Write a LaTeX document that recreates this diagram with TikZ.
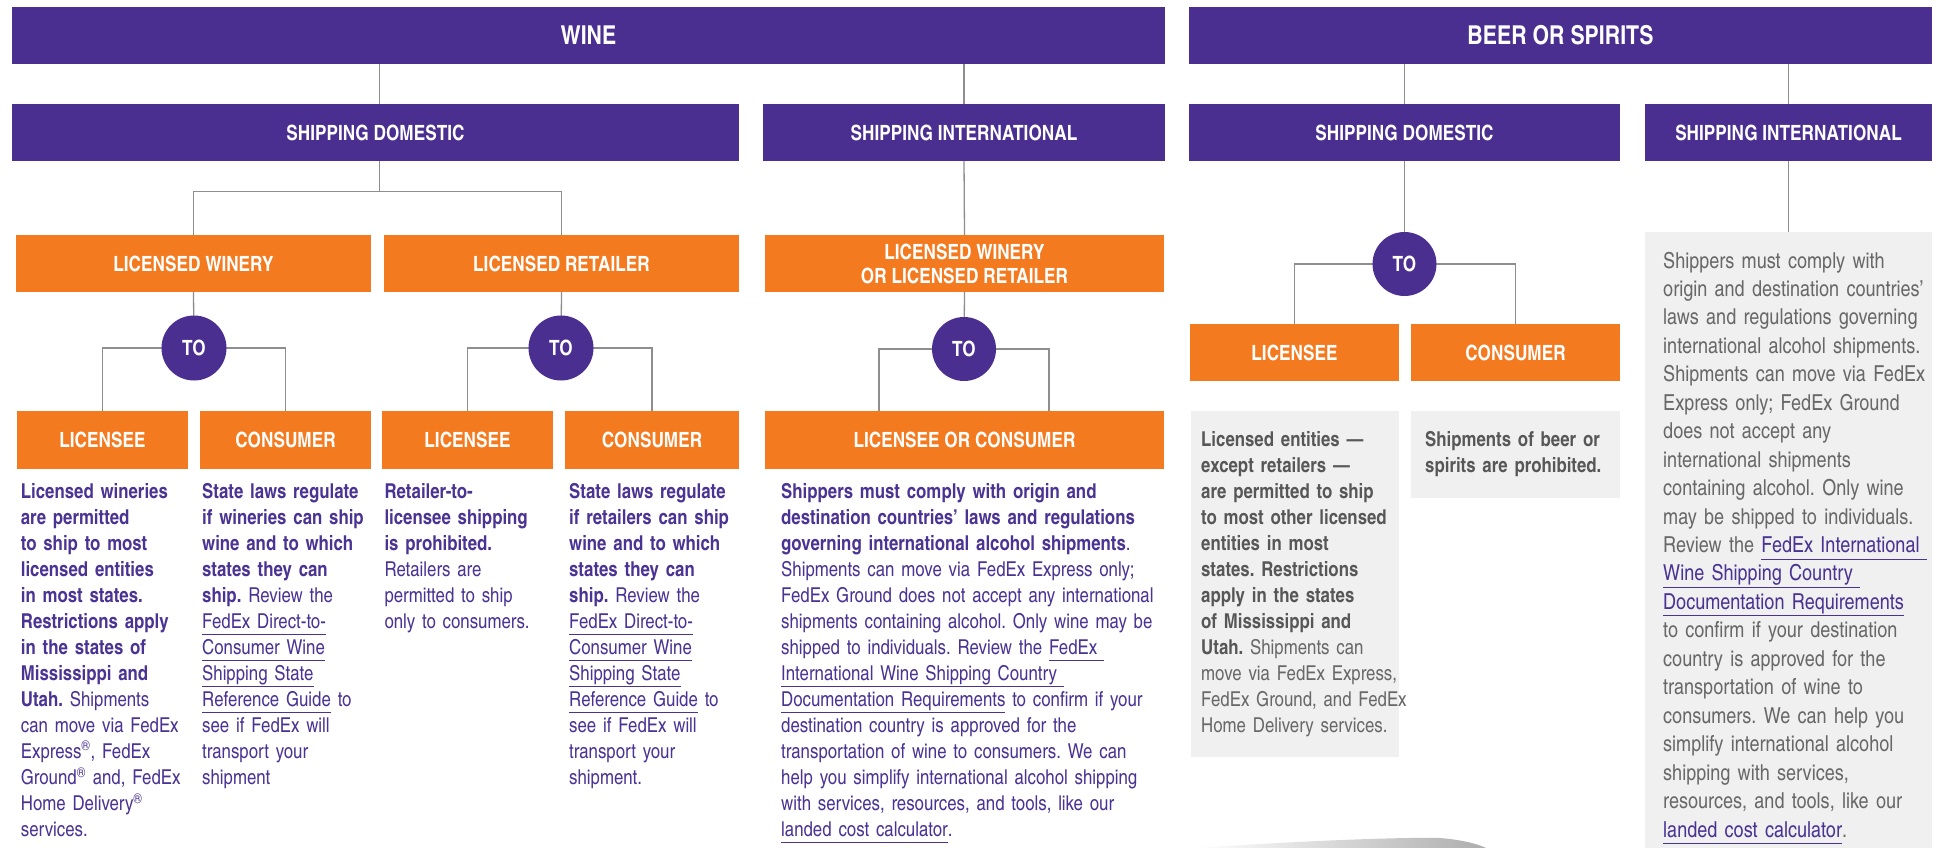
\documentclass[tikz,border=0pt]{standalone}
\usepackage{fontspec}
\setmainfont{texgyreheroscn}[Extension=.otf, UprightFont=*-regular, BoldFont=*-bold, ItalicFont=*-italic, BoldItalicFont=*-bolditalic]
\frenchspacing
\definecolor{fxpurple}{HTML}{4A2F91}
\definecolor{fxorange}{HTML}{F47A20}
\definecolor{txtpurple}{HTML}{4A3393}
\definecolor{boxgrey}{HTML}{F0F0F0}
\definecolor{txtgrey}{HTML}{575757}
\definecolor{txtgreyl}{HTML}{686868}
\definecolor{linegrey}{HTML}{8E8E8E}
\newcommand\fxhead{\bfseries\fontsize{21}{26}\selectfont}
\newcommand\fxtitle{\bfseries\fontsize{26}{30}\selectfont}
\newcommand\fxbody{\fontsize{20.5}{26.05}\selectfont}
\newcommand\fxbig{\fontsize{22}{28.45}\selectfont}
\newcommand\lnk[1]{\underline{#1\vphantom{g}}}
\newcommand\plnk[1]{{\color{txtpurple}\underline{#1\vphantom{g}}}}
\begin{document}
\begin{tikzpicture}[x=1pt,y=-1pt,
  pbar/.style={fill=fxpurple, text=white, font=\fxhead, inner sep=0, draw=none, align=center},
  obox/.style={fill=fxorange, text=white, font=\fxhead, inner sep=0, draw=none, align=center},
  tocirc/.style={circle, fill=fxpurple, text=white, font=\fxhead, inner sep=0, minimum size=65pt},
  gbox/.style={fill=boxgrey, inner sep=0, draw=none},
  conn/.style={draw=linegrey, line width=1.3pt},
  ptext/.style={anchor=base west, align=left, text width=420pt, inner sep=0, text=txtpurple, font=\fxbody},
  gtext/.style={anchor=base west, align=left, text width=420pt, inner sep=0, text=txtgreyl, font=\fxbody},
]
\useasboundingbox (0,0) rectangle (1937,848);
\fill[white] (0,0) rectangle (1937,848);

% bottom shadow
\shade[left color=white, right color=black!32] (1195,848) .. controls (1300,841) and (1400,837) .. (1440,838) .. controls (1465,840) and (1480,845) .. (1486,848) -- cycle;

% grey boxes
\node[gbox, minimum width=208pt, minimum height=346pt] (g1) at (1295,584) {};
\node[gbox, minimum width=209pt, minimum height=87pt] (g2) at (1515.5,454.5) {};
\node[gbox, minimum width=287pt, minimum height=616pt] (g3) at (1788.5,540) {};

% top bars
\node[pbar, font=\fxtitle, minimum width=1153pt, minimum height=57pt] (wine) at (588.5,35.5) {WINE};
\node[pbar, font=\fxtitle, minimum width=743pt, minimum height=57pt] (beer) at (1560.5,35.5) {BEER OR SPIRITS};

% shipping bars
\node[pbar, minimum width=727pt, minimum height=57pt] (wsd) at (375.5,132.5) {SHIPPING DOMESTIC};
\node[pbar, minimum width=402pt, minimum height=57pt] (wsi) at (964,132.5) {SHIPPING INTERNATIONAL};
\node[pbar, minimum width=431pt, minimum height=57pt] (bsd) at (1404.5,132.5) {SHIPPING DOMESTIC};
\node[pbar, minimum width=287pt, minimum height=57pt] (bsi) at (1788.5,132.5) {SHIPPING INTERNATIONAL};

% orange senders
\node[obox, minimum width=355pt, minimum height=57pt] (lw) at (193.5,263.5) {LICENSED WINERY};
\node[obox, minimum width=355pt, minimum height=57pt] (lr) at (561.5,263.5) {LICENSED RETAILER};
\node[obox, minimum width=399pt, minimum height=57pt] (lwlr) at (964.5,263.5) {LICENSED WINERY\\[-2pt]OR LICENSED RETAILER};

% connectors
\coordinate (jw) at (379.5,191.7);
\coordinate (i1) at (879,0);
\coordinate (i2) at (1049,0);
\coordinate (c1) at (194,348);
\coordinate (c2) at (561,348);
\coordinate (c3) at (964,349);
\coordinate (c4) at (1404.5,264);

% receivers
\node[obox, minimum width=171pt, minimum height=58pt] (wl) at (102.5,440) {LICENSEE};
\node[obox, minimum width=171pt, minimum height=58pt] (wc) at (285.5,440) {CONSUMER};
\node[obox, minimum width=171pt, minimum height=58pt] (rl) at (467.5,440) {LICENSEE};
\node[obox, minimum width=174pt, minimum height=58pt] (rc) at (652,440) {CONSUMER};
\node[obox, minimum width=399pt, minimum height=58pt] (ilc) at (964.5,440) {LICENSEE OR CONSUMER};
\node[obox, minimum width=209pt, minimum height=57pt] (bl) at (1294.5,352.5) {LICENSEE};
\node[obox, minimum width=209pt, minimum height=57pt] (bc) at (1515.5,352.5) {CONSUMER};

\draw[conn] (wine.south -| jw) -- (wsd.north -| jw);
\draw[conn] (wsd.south -| jw) -- (jw);
\draw[conn] (lw.north) |- (jw) -| (lr.north);
\draw[conn] (wine.south -| wsi) -- (wsi.north);
\draw[conn] (wsi.south) -- (lwlr.north);
\draw[conn] (lw.south) -- (c1);
\draw[conn] (lr.south) -- (c2);
\draw[conn] (lwlr.south) -- (c3);
\draw[conn] (c1) -| (wl.north);
\draw[conn] (c1) -| (wc.north);
\draw[conn] (c2) -| (rl.north);
\draw[conn] (c2) -| (rc.north);
\draw[conn] (c3) -| (ilc.north -| i1);
\draw[conn] (c3) -| (ilc.north -| i2);
\draw[conn] (beer.south -| bsd) -- (bsd.north);
\draw[conn] (beer.south -| bsi) -- (bsi.north);
\draw[conn] (bsd.south) -- (c4);
\draw[conn] (c4) -| (bl.north);
\draw[conn] (c4) -| (bc.north);
\draw[conn] (bsi.south) -- (g3.north);

% TO circles (drawn over the connector lines)
\node[tocirc] (to1) at (c1) {TO};
\node[tocirc] (to2) at (c2) {TO};
\node[tocirc, minimum size=64pt] (to3) at (c3) {TO};
\node[tocirc, minimum size=64pt] (to4) at (c4) {TO};

% texts
\node[ptext] (t1) at (20.7,498) {\textbf{Licensed wineries\\are permitted\\to ship to most\\licensed entities\\in most states.\\Restrictions apply\\in the states of\\Mississippi and\\Utah.} Shipments\\can move via FedEx\\Express\textsuperscript{®}, FedEx\\Ground\textsuperscript{®} and, FedEx\\Home Delivery\textsuperscript{®}\\services.};

\node[ptext] (t2) at (202,498) {\textbf{State laws regulate\\if wineries can ship\\wine and to which\\states they can\\ship.} Review the\\\lnk{FedEx Direct-to-}\\\lnk{Consumer Wine}\\\lnk{Shipping State}\\\lnk{Reference Guide} to\\see if FedEx will\\transport your\\shipment};

\node[ptext] (t3) at (384.3,498) {\textbf{Retailer-to-\\licensee shipping\\is prohibited.}\\Retailers are\\permitted to ship\\only to consumers.};

\node[ptext] (t4) at (569,498) {\textbf{State laws regulate\\if retailers can ship\\wine and to which\\states they can\\ship.} Review the\\\lnk{FedEx Direct-to-}\\\lnk{Consumer Wine}\\\lnk{Shipping State}\\\lnk{Reference Guide} to\\see if FedEx will\\transport your\\shipment.};

\node[ptext] (t5) at (781,498) {\textbf{Shippers must comply with origin and\\destination countries’ laws and regulations\\governing international alcohol shipments}.\\Shipments can move via FedEx Express only;\\FedEx Ground does not accept any international\\shipments containing alcohol. Only wine may be\\shipped to individuals. Review the \lnk{FedEx\ }\\\lnk{International Wine Shipping Country\ }\\\lnk{Documentation Requirements} to confirm if your\\destination country is approved for the\\transportation of wine to consumers. We can\\help you simplify international alcohol shipping\\with services, resources, and tools, like our\\\lnk{landed cost calculator}.};

\node[gtext] (t6) at (1201,446) {{\color{txtgrey}\textbf{Licensed entities —\\except retailers —\\are permitted to ship\\to most other licensed\\entities in most\\states. Restrictions\\apply in the states\\of Mississippi and\\Utah.}} Shipments can\\move via FedEx Express,\\FedEx Ground, and FedEx\\Home Delivery services.};

\node[gtext] (t7) at (1425,446) {{\color{txtgrey}\textbf{Shipments of beer or\\spirits are prohibited.}}};

\node[gtext, font=\fxbig] (t8) at (1663,268) {Shippers must comply with\\origin and destination countries’\\laws and regulations governing\\international alcohol shipments.\\Shipments can move via FedEx\\Express only; FedEx Ground\\does not accept any\\international shipments\\containing alcohol. Only wine\\may be shipped to individuals.\\Review the \plnk{FedEx International\ }\\\plnk{Wine Shipping Country\ }\\\plnk{Documentation Requirements}\\to confirm if your destination\\country is approved for the\\transportation of wine to\\consumers. We can help you\\simplify international alcohol\\shipping with services,\\resources, and tools, like our\\\plnk{landed cost calculator}.};
\end{tikzpicture}
\end{document}
